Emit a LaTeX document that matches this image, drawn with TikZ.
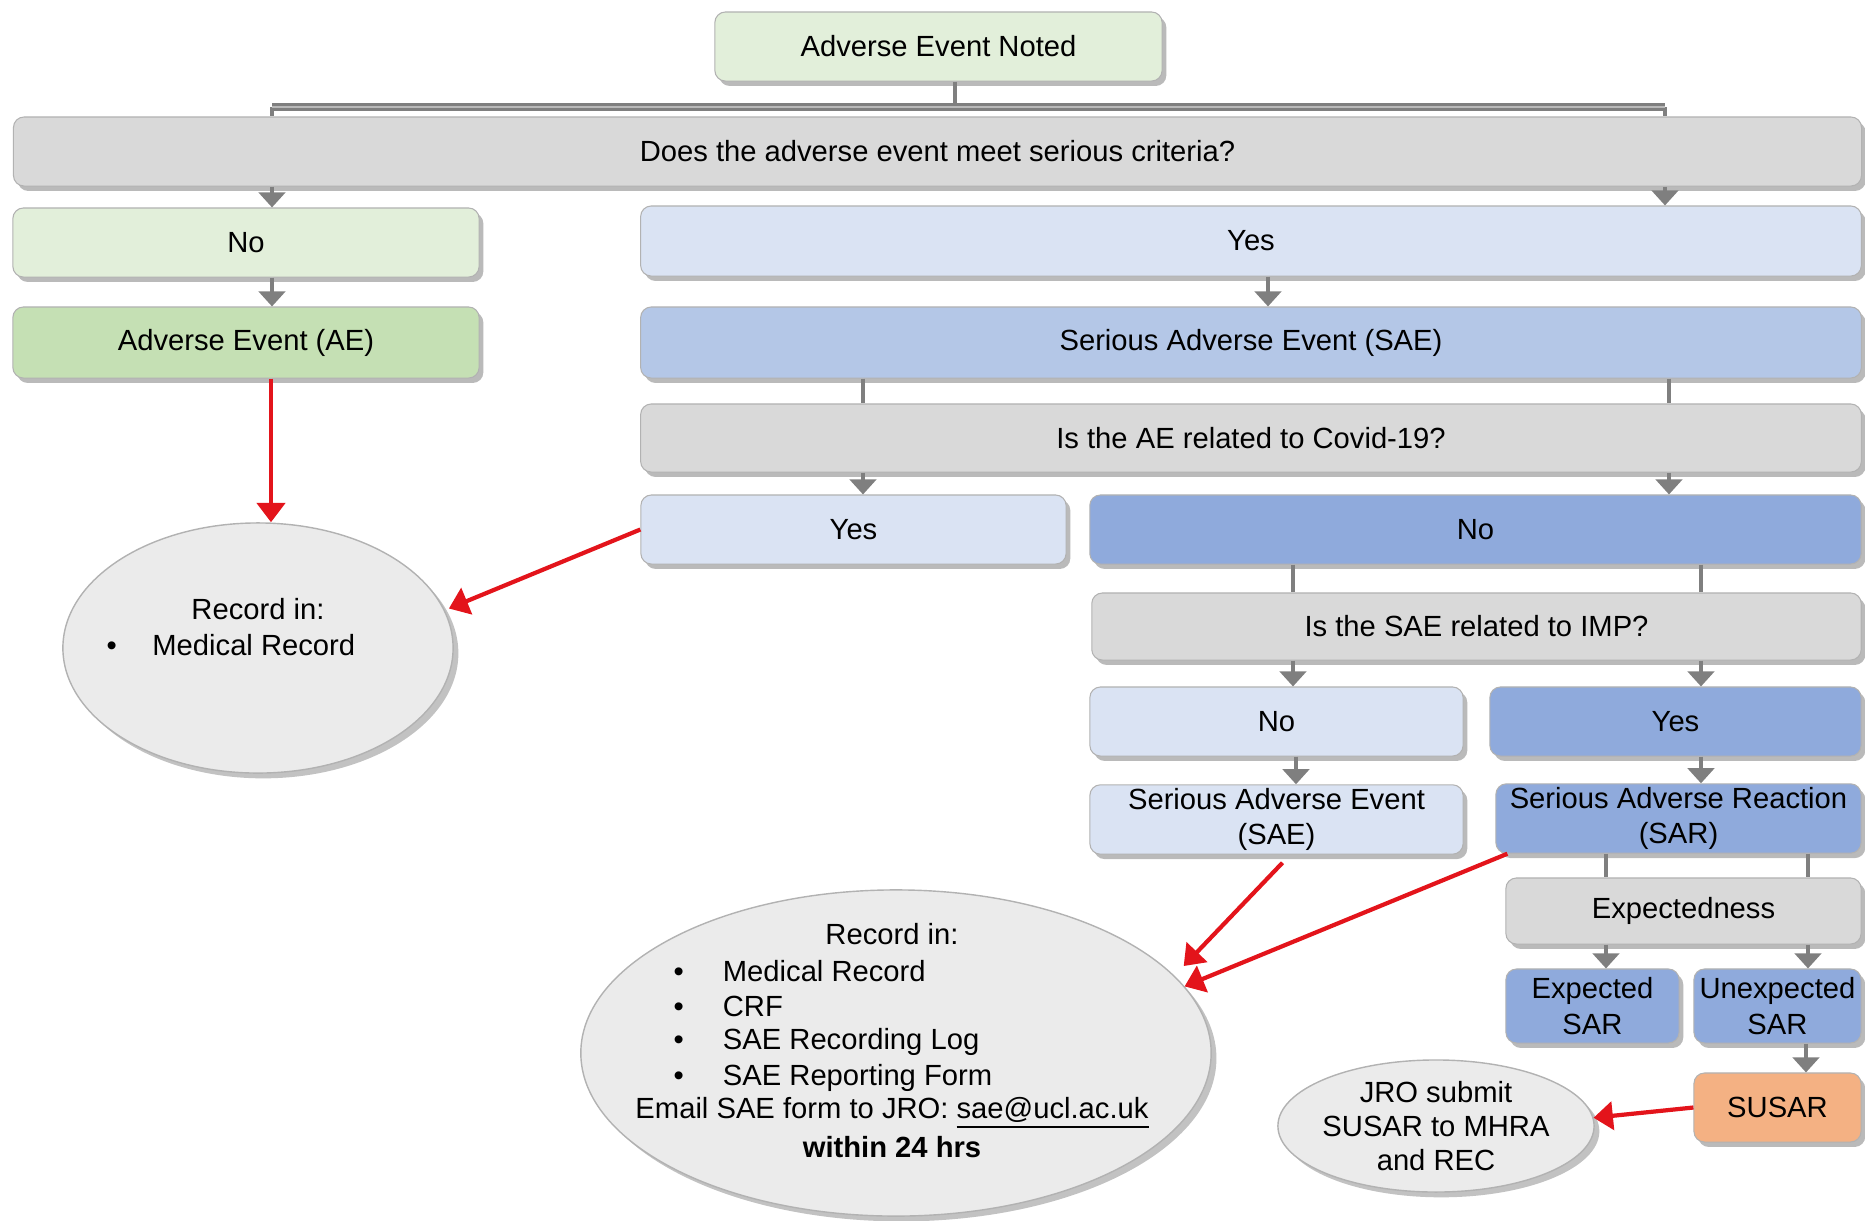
\documentclass[tikz,border=0pt]{standalone}
\usepackage{fontspec}
\setmainfont{Liberation Sans}
\usetikzlibrary{arrows.meta,shadows,shapes.geometric}
\definecolor{lgreen}{HTML}{E2EFDA}
\definecolor{mgreen}{HTML}{C5E0B4}
\definecolor{qgray}{HTML}{D9D9D9}
\definecolor{lblue}{HTML}{DAE3F3}
\definecolor{mblue}{HTML}{B4C7E7}
\definecolor{dblue}{HTML}{8FAADC}
\definecolor{orng}{HTML}{F4B183}
\definecolor{ellfill}{HTML}{EBEBEB}
\definecolor{cgray}{HTML}{7F7F7F}
\definecolor{rred}{HTML}{E3141B}
\tikzset{
  every node/.style={font=\fontsize{8.3}{10}\selectfont, text=black},
  box/.style={rectangle, rounded corners=3pt, inner sep=1pt, align=center,
    draw=white!70!black, line width=0.3pt,
    drop shadow={shadow xshift=1.2pt, shadow yshift=-1.4pt, opacity=0.45, fill=black!60}},
  ell/.style={ellipse, fill=ellfill, draw=black!30, line width=0.4pt, inner sep=0pt,
    drop shadow={shadow xshift=1.5pt, shadow yshift=-1.5pt, opacity=0.4, fill=black!60}},
  txt/.style={inner sep=0pt, align=center},
  conn/.style={draw=cgray, line width=1.1pt},
  carr/.style={conn, -{Triangle[width=7.5pt,length=4.3pt]}},
  bar/.style={draw=cgray, line width=2.4pt},
  barin/.style={draw=cgray!55, line width=0.8pt},
  rarr/.style={draw=rred, line width=1.2pt, -{Triangle[width=8pt,length=5.5pt]}},
}
\begin{document}
\begin{tikzpicture}[x=0.01cm, y=-0.01cm]
\useasboundingbox (0,0) rectangle (1865,1220);

% boxes
\node[box, fill=lgreen, minimum width=4.47cm, minimum height=0.69cm] (noted) at (938.5,46.5) {Adverse Event Noted};
\node[box, fill=qgray, minimum width=18.47cm, minimum height=0.69cm] (q1) at (937.5,151.5) {Does the adverse event meet serious criteria?};
\node[box, fill=lgreen, minimum width=4.66cm, minimum height=0.69cm] (no1) at (246,242.5) {No};
\node[box, fill=lblue, minimum width=12.2cm, minimum height=0.70cm] (yes1) at (1251,241) {Yes};
\node[box, fill=mgreen, minimum width=4.66cm, minimum height=0.71cm] (ae) at (246,342.5) {Adverse Event (AE)};
\node[box, fill=mblue, minimum width=12.2cm, minimum height=0.71cm] (sae) at (1251,342.5) {Serious Adverse Event (SAE)};
\node[box, fill=qgray, minimum width=12.2cm, minimum height=0.68cm] (q2) at (1251,438) {Is the AE related to Covid-19?};
\node[box, fill=lblue, minimum width=4.25cm, minimum height=0.69cm] (yes2) at (853.5,529.5) {Yes};
\node[box, fill=dblue, minimum width=7.71cm, minimum height=0.69cm] (no2) at (1475.5,529.5) {No};
\node[box, fill=qgray, minimum width=7.69cm, minimum height=0.67cm] (q3) at (1476.5,626.5) {Is the SAE related to IMP?};
\node[box, fill=lblue, minimum width=3.73cm, minimum height=0.69cm] (no3) at (1276.5,721.5) {No};
\node[box, fill=dblue, minimum width=3.71cm, minimum height=0.69cm] (yes3) at (1675.5,721.5) {Yes};
\node[box, fill=lblue, minimum width=3.73cm, minimum height=0.69cm] (sae2) at (1276.5,819.5) {Serious Adverse Event\\(SAE)};
\node[box, fill=dblue, minimum width=3.65cm, minimum height=0.67cm] (sar) at (1678.5,818.5) {Serious Adverse Reaction\\(SAR)};
\node[box, fill=qgray, minimum width=3.55cm, minimum height=0.66cm] (expq) at (1683.5,911) {Expectedness};
\node[box, fill=dblue, minimum width=1.73cm, minimum height=0.74cm] (exp) at (1592.5,1006) {Expected\\SAR};
\node[box, fill=dblue, minimum width=1.67cm, minimum height=0.74cm] (unexp) at (1777.5,1006) {Unexpected\\SAR};
\node[box, fill=orng, minimum width=1.67cm, minimum height=0.69cm] (susar) at (1777.5,1107.5) {SUSAR};

% ellipses
\node[ell, minimum width=3.9cm, minimum height=2.5cm] (rec1) at (258,648) {};
\node[txt] (rec1a) at (258,609) {Record in:};
\node[txt, anchor=west] (rec1b) at (106,645) {\makebox[13pt][l]{\textbullet}Medical Record};

\node[ell, minimum width=6.3cm, minimum height=3.26cm] (rec2) at (896,1053) {};
\node[txt] (rec2a) at (892,934) {Record in:};
\node[txt, anchor=west] (rec2b) at (673,971) {\makebox[14pt][l]{\textbullet}Medical Record};
\node[txt, anchor=west] (rec2c) at (673,1006) {\makebox[14pt][l]{\textbullet}CRF};
\node[txt, anchor=west] (rec2d) at (673,1042) {\makebox[14pt][l]{\textbullet}SAE Recording Log};
\node[txt, anchor=west] (rec2e) at (673,1078) {\makebox[14pt][l]{\textbullet}SAE Reporting Form};
\node[txt] (rec2f) at (892,1113) {Email SAE form to JRO: \underline{sae@ucl.ac.uk}};
\node[txt] (rec2g) at (892,1147) {\textbf{within 24 hrs}};

\node[ell, minimum width=3.16cm, minimum height=1.32cm] (jro) at (1436,1126) {};
\node[txt, align=center, font=\fontsize{8.3}{9.7}\selectfont] (jrot) at (1436,1126) {JRO submit\\SUSAR to MHRA\\and REC};

% coordinates for connector columns
\coordinate (cA) at (272,0);
\coordinate (cB) at (1665,0);
\coordinate (cT) at (955,107);
\coordinate (cC) at (1268,0);
\coordinate (cD) at (863,0);
\coordinate (cE) at (1669,0);
\coordinate (cF) at (1293,0);
\coordinate (cG) at (1701,0);
\coordinate (cH) at (1296,0);
\coordinate (cI) at (1606,0);
\coordinate (cJ) at (1808,0);
\coordinate (cK) at (1806,0);
\coordinate (cR) at (271,0);

% top bar
\draw[conn] (cT |- noted.south) -- (cT);
\draw[conn] (cA |- cT) -- (cA |- q1.north);
\draw[conn] (cB |- cT) -- (cB |- q1.north);
\draw[bar] (cA |- cT) -- (cB |- cT);
\draw[barin] (cA |- cT) -- (cB |- cT);

% gray connectors
\draw[carr] (cA |- q1.south) -- (cA |- no1.north);
\draw[carr] (cB |- q1.south) -- (cB |- yes1.north);
\draw[carr] (cA |- no1.south) -- (cA |- ae.north);
\draw[carr] (cC |- yes1.south) -- (cC |- sae.north);
\draw[conn] (cD |- sae.south) -- (cD |- q2.north);
\draw[conn] (cE |- sae.south) -- (cE |- q2.north);
\draw[carr] (cD |- q2.south) -- (cD |- yes2.north);
\draw[carr] (cE |- q2.south) -- (cE |- no2.north);
\draw[conn] (cF |- no2.south) -- (cF |- q3.north);
\draw[conn] (cG |- no2.south) -- (cG |- q3.north);
\draw[carr] (cF |- q3.south) -- (cF |- no3.north);
\draw[carr] (cG |- q3.south) -- (cG |- yes3.north);
\draw[carr] (cH |- no3.south) -- (cH |- sae2.north);
\draw[carr] (cG |- yes3.south) -- (cG |- sar.north);
\draw[conn] (cI |- sar.south) -- (cI |- expq.north);
\draw[conn] (cJ |- sar.south) -- (cJ |- expq.north);
\draw[carr] (cI |- expq.south) -- (cI |- exp.north);
\draw[carr] (cJ |- expq.south) -- (cJ |- unexp.north);
\draw[carr] (cK |- unexp.south) -- (cK |- susar.north);

% red arrows
\draw[rarr] (cR |- ae.south) -- (cR |- rec1.north);
\draw[rarr] (yes2.west) -- ([xshift=0.05cm]rec1.12);
\draw[rarr] ([xshift=0.06cm, yshift=-0.08cm]sae2.south) -- ([xshift=0.2cm]rec2.18);
\draw[rarr] ([xshift=0.12cm]sar.south west) -- (rec2.13);
\draw[rarr] (susar.west) -- (jro.3);
\end{tikzpicture}
\end{document}
